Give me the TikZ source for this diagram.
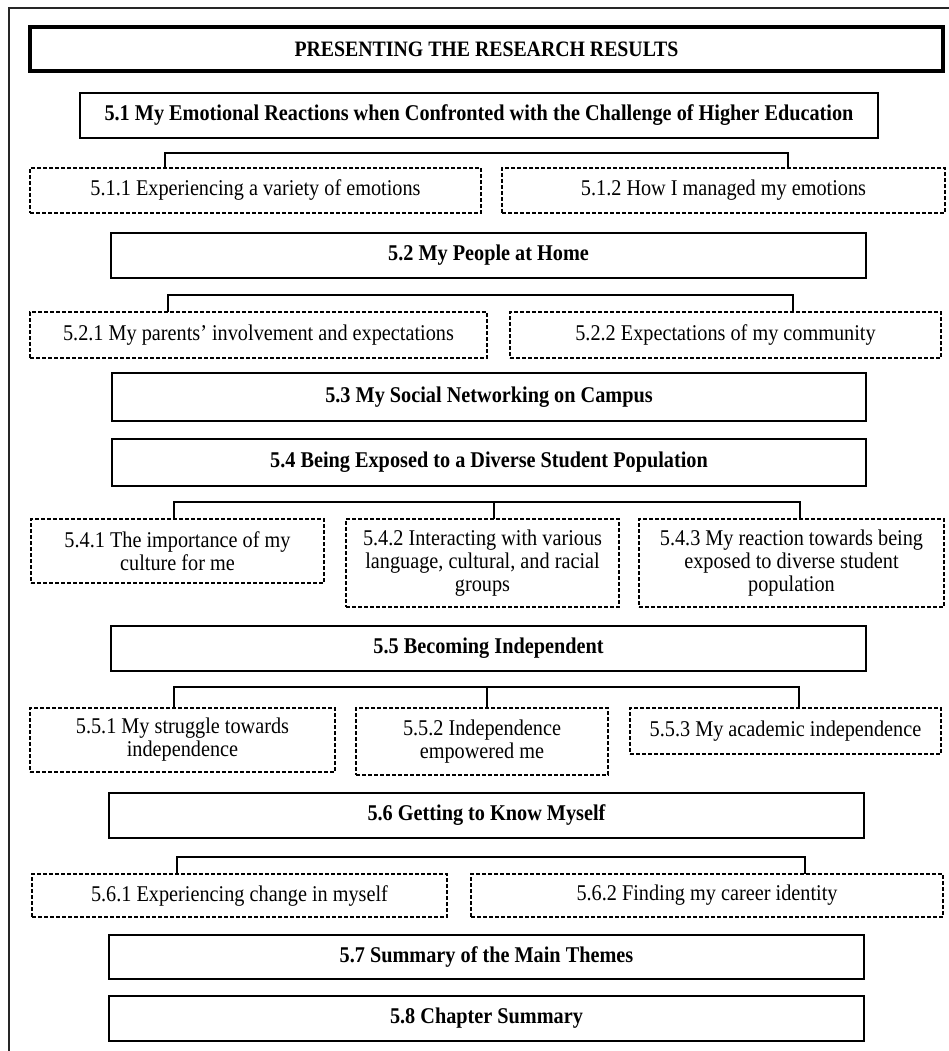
\documentclass[tikz,border=0pt]{standalone}
\usepackage{fontspec}
\setmainfont{Liberation Serif}[FakeStretch=0.9]
\usetikzlibrary{calc}

\begin{document}
\begin{tikzpicture}[x=1pt,y=-1pt,
  every node/.style={inner sep=0pt, outer sep=0pt, align=center,
    font=\fontsize{22.5}{23}\selectfont},
  titlebox/.style={draw, line width=4pt, font=\fontsize{22}{23}\selectfont\bfseries},
  mainbox/.style={draw, line width=1.6pt, font=\fontsize{22.5}{23}\selectfont\bfseries},
  subbox/.style={draw, line width=1.3pt, dash pattern=on 4pt off 2pt},
  bracket/.style={draw, line width=1.4pt}
]
\useasboundingbox (0,0) rectangle (949,1051);

% outer frame (left and top sides)
\draw[line width=1.4pt, black!85] (9,1051) -- (9,8) -- (949,8);

% heading
\node[titlebox, minimum width=913, minimum height=44] (title) at (486.5,49)
  {PRESENTING THE RESEARCH RESULTS};

% 5.1
\node[mainbox, minimum width=798, minimum height=45] (s51) at (479,115.5)
  {5.1 My Emotional Reactions when Confronted with the Challenge of Higher Education};
\node[subbox, minimum width=451, minimum height=45] (s511) at (255.5,190.5)
  {5.1.1 Experiencing a variety of emotions};
\node[subbox, minimum width=443, minimum height=45] (s512) at (723.5,190.5)
  {5.1.2 How I managed my emotions};
\coordinate (k1a) at (165,153);
\coordinate (k1b) at (788,153);
\draw[bracket] (s511.north -| k1a) -- (k1a) -- (k1b) -- (s512.north -| k1b);

% 5.2
\node[mainbox, minimum width=755, minimum height=45] (s52) at (488.5,255.5)
  {5.2 My People at Home};
\node[subbox, minimum width=457, minimum height=46] (s521) at (258.5,335)
  {5.2.1 My parents’ involvement and expectations};
\node[subbox, minimum width=431, minimum height=46] (s522) at (725.5,335)
  {5.2.2 Expectations of my community};
\coordinate (k2a) at (168,295);
\coordinate (k2b) at (793,295);
\draw[bracket] (s521.north -| k2a) -- (k2a) -- (k2b) -- (s522.north -| k2b);

% 5.3
\node[mainbox, minimum width=754, minimum height=48] (s53) at (489,397)
  {5.3 My Social Networking on Campus};

% 5.4
\node[mainbox, minimum width=754, minimum height=47] (s54) at (489,462.5)
  {5.4 Being Exposed to a Diverse Student Population};
\node[subbox, minimum width=293, minimum height=64] (s541) at (177.5,551)
  {5.4.1 The importance of my\\culture for me};
\node[subbox, minimum width=273, minimum height=88] (s542) at (482.5,563)
  {5.4.2 Interacting with various\\language, cultural, and racial\\groups};
\node[subbox, minimum width=305, minimum height=88] (s543) at (791.5,563)
  {5.4.3 My reaction towards being\\exposed to diverse student\\population};
\coordinate (k4a) at (174,502);
\coordinate (k4m) at (494,502);
\coordinate (k4b) at (800,502);
\draw[bracket] (s541.north -| k4a) -- (k4a) -- (k4b) -- (s543.north -| k4b);
\draw[bracket] (k4m) -- (s542.north -| k4m);

% 5.5
\node[mainbox, minimum width=755, minimum height=45] (s55) at (488.5,648.5)
  {5.5 Becoming Independent};
\node[subbox, minimum width=305, minimum height=64] (s551) at (182.5,740)
  {5.5.1 My struggle towards\\independence};
\node[subbox, minimum width=252, minimum height=67] (s552) at (482,741.5)
  {5.5.2 Independence\\empowered me};
\node[subbox, minimum width=311, minimum height=46] (s553) at (785.5,731)
  {5.5.3 My academic independence};
\coordinate (k5a) at (174,687);
\coordinate (k5m) at (487,687);
\coordinate (k5b) at (799,687);
\draw[bracket] (s551.north -| k5a) -- (k5a) -- (k5b) -- (s553.north -| k5b);
\draw[bracket] (k5m) -- (s552.north -| k5m);

% 5.6
\node[mainbox, minimum width=755, minimum height=45] (s56) at (486.5,815.5)
  {5.6 Getting to Know Myself};
\node[subbox, minimum width=415, minimum height=43] (s561) at (239.5,895.5)
  {5.6.1 Experiencing change in myself};
\node[subbox, minimum width=472, minimum height=43] (s562) at (707,895.5)
  {5.6.2 Finding my career identity};
\coordinate (k6a) at (177,857);
\coordinate (k6b) at (805,857);
\draw[bracket] (s561.north -| k6a) -- (k6a) -- (k6b) -- (s562.north -| k6b);

% 5.7 and 5.8
\node[mainbox, minimum width=755, minimum height=44] (s57) at (486.5,957)
  {5.7 Summary of the Main Themes};
\node[mainbox, minimum width=755, minimum height=45] (s58) at (486.5,1018.5)
  {5.8 Chapter Summary};
\end{tikzpicture}
\end{document}
